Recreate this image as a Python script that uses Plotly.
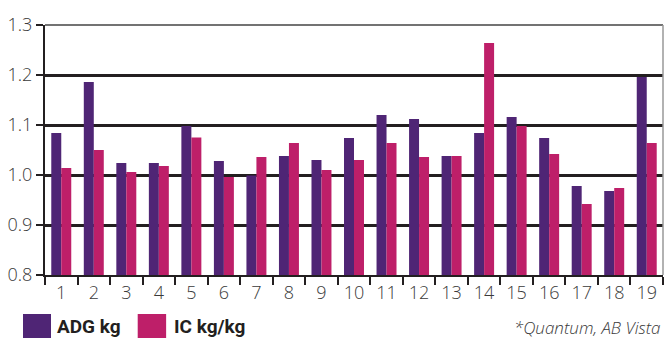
import plotly.graph_objects as go

categories = list(range(1, 20))
adg = [1.084, 1.186, 1.024, 1.024, 1.098, 1.028, 0.999, 1.038, 1.030, 1.074,
       1.120, 1.112, 1.038, 1.084, 1.116, 1.074, 0.978, 0.968, 1.196]
ic = [1.014, 1.050, 1.006, 1.018, 1.075, 0.996, 1.036, 1.064, 1.010, 1.030,
      1.064, 1.036, 1.038, 1.264, 1.098, 1.042, 0.942, 0.974, 1.064]
y_ticks = [0.8, 0.9, 1.0, 1.1, 1.2, 1.3]
y_labels = ["0.8", "0.9", "1.0", "1.1", "1.2", "1.3"]
series_names = ["ADG kg", "IC kg/kg"]
source_note = "*Quantum, AB Vista"

PURPLE = "#4f2575"
MAGENTA = "#be1f69"
TXT = "#3a3a3a"
FONT = "Open Sans"

fig = go.Figure()
fig.add_trace(go.Bar(x=categories, y=adg, name=series_names[0], marker_color=PURPLE,
                     marker_line_width=0, base=0))
fig.add_trace(go.Bar(x=categories, y=ic, name=series_names[1], marker_color=MAGENTA,
                     marker_line_width=0, base=0))

fig.update_layout(
    width=664, height=338,
    margin=dict(l=45, r=1, t=25, b=63),
    paper_bgcolor="white", plot_bgcolor="white",
    barmode="group", bargap=0.386, bargroupgap=0,
    showlegend=False,
    font=dict(family=FONT, color=TXT),
)
fig.update_xaxes(
    type="linear", range=[0.5, 19.5],
    tickmode="array", tickvals=categories, ticktext=[str(c) for c in categories],
    ticks="", showgrid=False,
    tickfont=dict(size=18, color=TXT, family=FONT, weight=300),
    showline=True, linecolor="#231f20", linewidth=2,
    minor=dict(tick0=0.5, dtick=1, ticks="outside", ticklen=8, tickwidth=2,
               tickcolor="#231f20", showgrid=False),
    zeroline=False,
)
fig.update_yaxes(
    range=[0.8, 1.3], tickmode="array", tickvals=y_ticks, ticktext=y_labels,
    ticks="outside", ticklen=7, tickwidth=2, tickcolor="#231f20",
    showgrid=True, gridcolor="#231f20", gridwidth=2.5,
    tickfont=dict(size=18, color=TXT, family=FONT, weight=300),
    showline=True, linecolor="#231f20", linewidth=2, zeroline=False,
)
# top and right frame lines
fig.add_shape(type="line", xref="paper", yref="paper", x0=0, x1=1, y0=1, y1=1,
              line=dict(color="#444444", width=1.5))
fig.add_shape(type="line", xref="paper", yref="paper", x0=1, x1=1, y0=0, y1=1,
              line=dict(color="#999999", width=1.5))

# legend
leg_items = [(series_names[0], PURPLE, -0.0356, 0.0097, 0.016),
             (series_names[1], MAGENTA, 0.150, 0.196, 0.2055)]
for name, col, x0, x1, tx in leg_items:
    fig.add_shape(type="rect", xref="paper", yref="paper", x0=x0, x1=x1,
                  y0=-0.27, y1=-0.156, line_width=0, fillcolor=col)
    fig.add_annotation(text=name, xref="paper", yref="paper", x=tx, y=-0.205,
                       xanchor="left", yanchor="middle", showarrow=False,
                       font=dict(size=19, color="#231f20", family="Roboto", weight="bold"))
fig.add_annotation(text=f"<i>{source_note}</i>", xref="paper", yref="paper", x=1.0, y=-0.21,
                   xanchor="right", yanchor="middle", showarrow=False,
                   font=dict(size=17, color=TXT, family=FONT, weight=300))

fig.write_html("out.html")
